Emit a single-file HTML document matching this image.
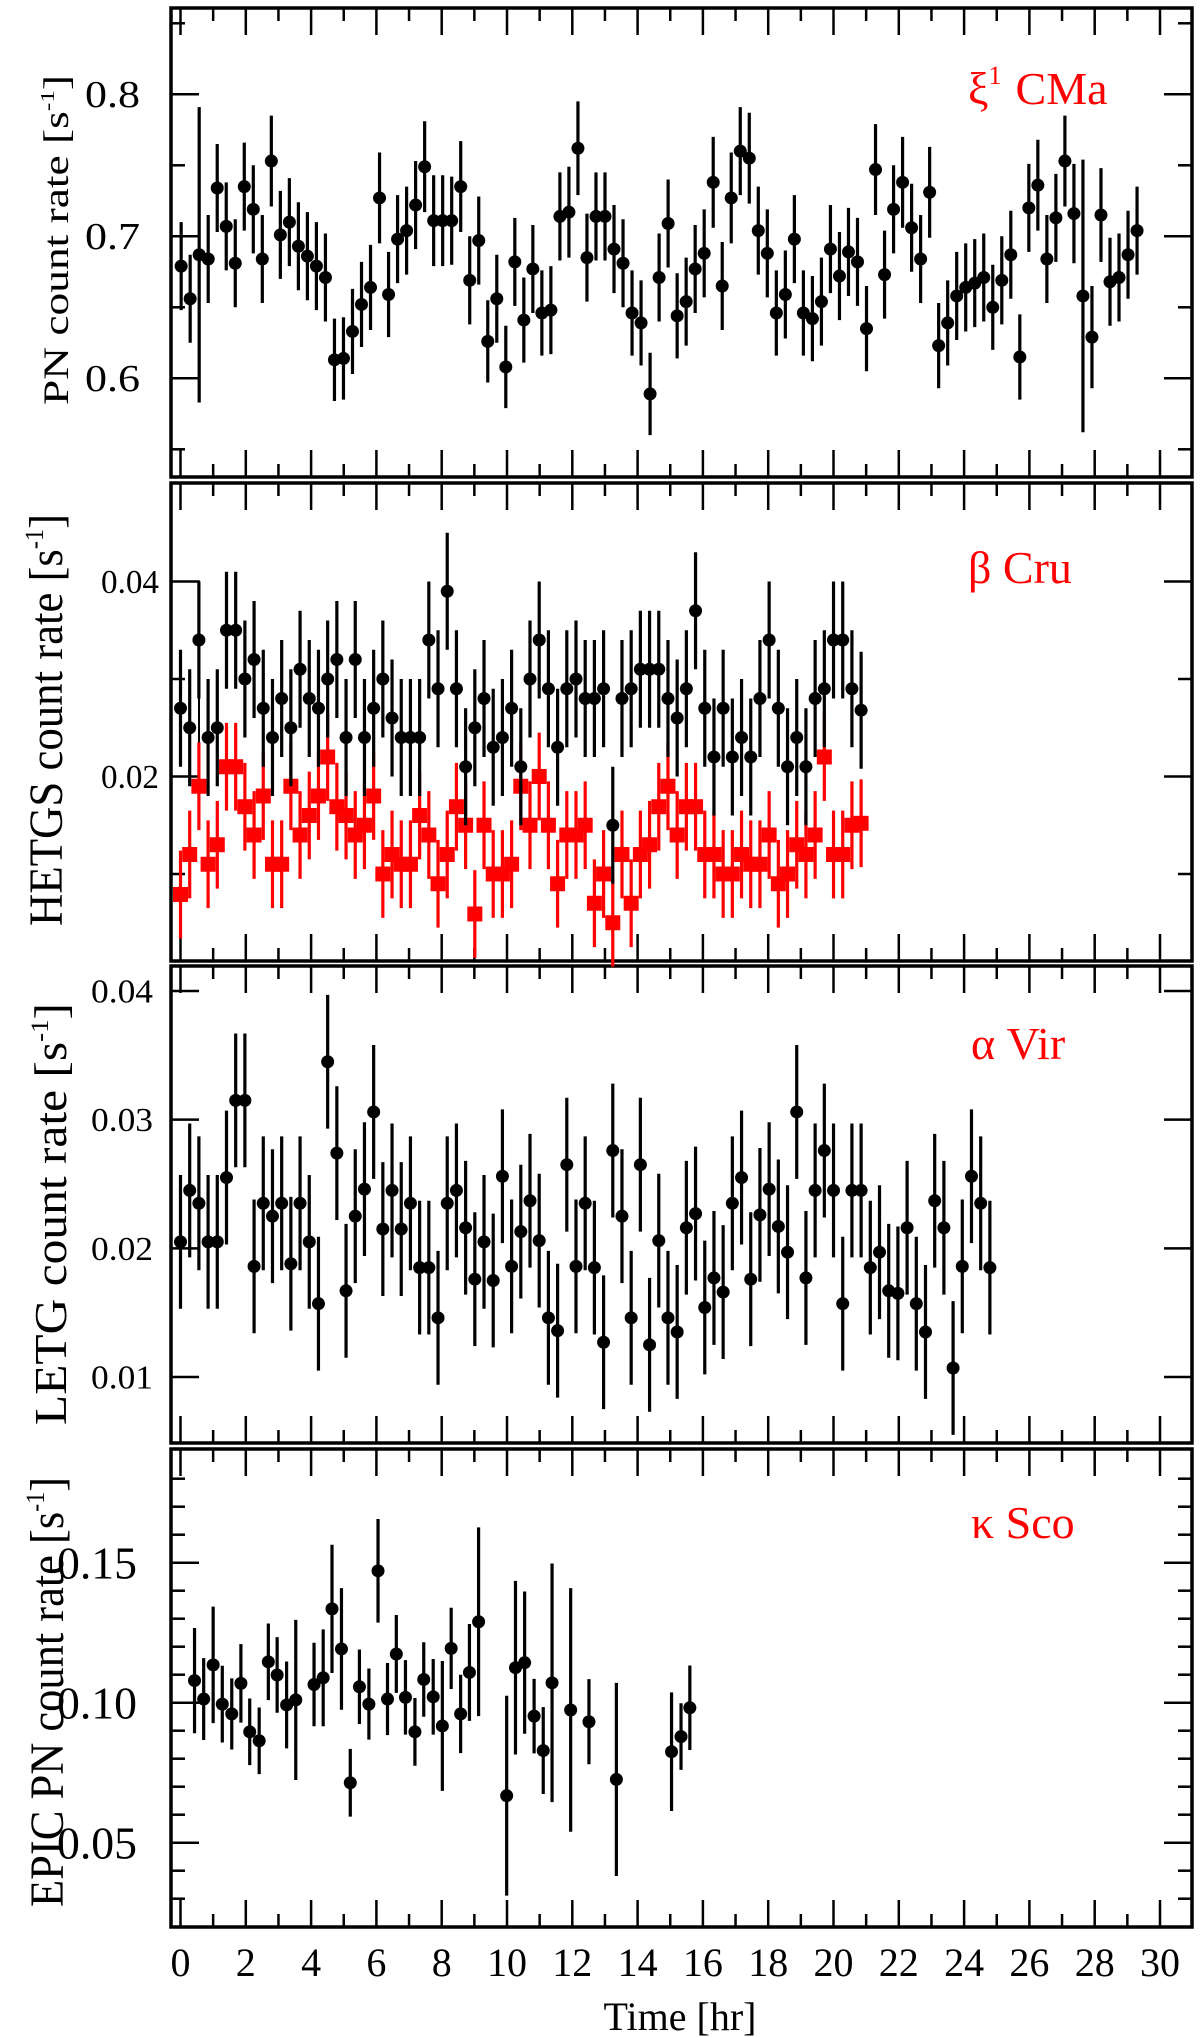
<!DOCTYPE html>
<html><head><meta charset="utf-8">
<style>
html,body{margin:0;padding:0;background:#fff;}
svg{display:block;}
text{font-family:"Liberation Serif",serif;}
</style></head>
<body>
<svg id="fig" width="1200" height="2037" viewBox="0 0 1200 2037" xmlns="http://www.w3.org/2000/svg"></svg>
<script>
// ---------- data ----------
// Panel 1: xi1 CMa (PN)
const p1BinStart = 0.02, p1BinSize = 0.2762;
const p1Values = [0.679,0.656,0.687,0.684,0.734,0.707,0.681,0.735,0.719,0.684,0.753,0.701,0.710,0.693,0.686,0.679,0.671,0.613,0.614,0.633,0.652,0.664,0.727,0.659,0.698,0.704,0.722,0.749,0.711,0.711,0.711,0.735,0.669,0.697,0.626,0.656,0.608,0.682,0.641,0.677,0.646,0.648,0.714,0.717,0.762,0.685,0.714,0.714,0.691,0.681,0.646,0.639,0.589,0.671,0.709,0.644,0.654,0.677,0.688,0.738,0.665,0.727,0.760,0.755,0.704,0.688,0.646,0.659,0.698,0.646,0.642,0.654,0.691,0.672,0.689,0.682,0.635,0.747,0.673,0.719,0.738,0.706,0.684,0.731,0.623,0.639,0.658,0.664,0.667,0.671,0.650,0.669,0.687,0.615,0.720,0.736,0.684,0.713,0.753,0.716,0.658,0.629,0.715,0.668,0.671,0.687,0.704];
const p1Errors = [0.031,0.031,0.104,0.031,0.031,0.031,0.031,0.031,0.031,0.031,0.032,0.031,0.031,0.031,0.031,0.031,0.031,0.029,0.029,0.030,0.030,0.030,0.032,0.030,0.031,0.031,0.031,0.032,0.032,0.032,0.031,0.032,0.031,0.031,0.029,0.031,0.029,0.031,0.030,0.031,0.030,0.031,0.031,0.032,0.033,0.031,0.031,0.031,0.031,0.031,0.030,0.030,0.029,0.031,0.031,0.030,0.031,0.031,0.031,0.032,0.031,0.032,0.031,0.032,0.031,0.031,0.030,0.031,0.031,0.030,0.030,0.031,0.031,0.031,0.031,0.031,0.030,0.032,0.031,0.031,0.032,0.031,0.031,0.032,0.030,0.030,0.031,0.031,0.031,0.031,0.030,0.031,0.031,0.030,0.031,0.032,0.031,0.031,0.032,0.035,0.096,0.036,0.033,0.031,0.031,0.031,0.031];
// Panel 2: beta Cru (HETGS), two series
const p2BinStart = 0.0, p2BinSize = 0.2817;
const p2Black = [0.0270,0.0250,0.0340,0.0240,0.0250,0.0350,0.0350,0.0300,0.0320,0.0270,0.0240,0.0280,0.0250,0.0310,0.0280,0.0270,0.0300,0.0320,0.0240,0.0320,0.0240,0.0270,0.0300,0.0260,0.0240,0.0240,0.0240,0.0340,0.0290,0.0390,0.0290,0.0210,0.0250,0.0280,0.0230,0.0240,0.0270,0.0210,0.0300,0.0340,0.0290,0.0230,0.0290,0.0300,0.0280,0.0280,0.0290,0.0150,0.0280,0.0290,0.0310,0.0310,0.0310,0.0280,0.0260,0.0290,0.0370,0.0270,0.0220,0.0270,0.0220,0.0240,0.0220,0.0280,0.0340,0.0270,0.0210,0.0240,0.0210,0.0280,0.0290,0.0340,0.0340,0.0290,0.0268];
const p2Red = [0.0079,0.0120,0.0190,0.0110,0.0130,0.0210,0.0210,0.0169,0.0140,0.0180,0.0110,0.0110,0.0190,0.0140,0.0160,0.0180,0.0220,0.0169,0.0160,0.0140,0.0150,0.0180,0.0100,0.0120,0.0110,0.0110,0.0160,0.0140,0.0090,0.0120,0.0169,0.0150,0.0059,0.0150,0.0100,0.0100,0.0110,0.0190,0.0150,0.0200,0.0150,0.0090,0.0140,0.0140,0.0150,0.0070,0.0100,0.0050,0.0120,0.0070,0.0120,0.0130,0.0169,0.0190,0.0140,0.0169,0.0169,0.0120,0.0120,0.0100,0.0100,0.0120,0.0110,0.0110,0.0140,0.0090,0.0100,0.0130,0.0120,0.0140,0.0220,0.0120,0.0120,0.0150,0.0152];
const p2BlackErr = 0.006, p2RedErr = 0.0045;
// Panel 3: alpha Vir (LETG)
const p3BinStart = 0.0, p3BinSize = 0.2817;
const p3Values = [0.0205,0.0245,0.0235,0.0205,0.0205,0.0255,0.0315,0.0315,0.0186,0.0235,0.0225,0.0235,0.0188,0.0235,0.0205,0.0157,0.0345,0.0274,0.0167,0.0225,0.0246,0.0306,0.0215,0.0245,0.0215,0.0235,0.0185,0.0185,0.0146,0.0235,0.0245,0.0216,0.0176,0.0205,0.0175,0.0256,0.0186,0.0213,0.0237,0.0206,0.0146,0.0136,0.0265,0.0186,0.0235,0.0185,0.0127,0.0276,0.0225,0.0146,0.0265,0.0125,0.0206,0.0146,0.0135,0.0216,0.0227,0.0154,0.0177,0.0166,0.0235,0.0255,0.0176,0.0226,0.0246,0.0217,0.0197,0.0306,0.0177,0.0245,0.0276,0.0245,0.0157,0.0245,0.0245,0.0185,0.0197,0.0167,0.0165,0.0216,0.0157,0.0135,0.0237,0.0216,0.0107,0.0186,0.0256,0.0235,0.0185];
const p3Err = 0.0052;
// Panel 4: kappa Sco (EPIC PN)
const p4Times = [0.43,0.71,1.00,1.28,1.57,1.85,2.12,2.41,2.69,2.96,3.25,3.53,4.09,4.37,4.64,4.93,5.20,5.48,5.77,6.05,6.34,6.61,6.89,7.18,7.45,7.74,8.02,8.29,8.58,8.85,9.13,9.99,10.26,10.54,10.83,11.11,11.38,11.95,12.51,13.35,15.04,15.33,15.60];
const p4Values = [0.1079,0.1013,0.1135,0.0995,0.0960,0.1069,0.0896,0.0864,0.1146,0.1099,0.0992,0.1010,0.1065,0.1089,0.1335,0.1192,0.0714,0.1057,0.0995,0.1471,0.1013,0.1174,0.1019,0.0896,0.1083,0.1021,0.0917,0.1194,0.0960,0.1108,0.1289,0.0668,0.1125,0.1143,0.0952,0.0829,0.1071,0.0974,0.0932,0.0726,0.0825,0.0879,0.0982];
const p4Errors = [0.0188,0.0146,0.0208,0.0137,0.0127,0.0140,0.0119,0.0119,0.0137,0.0135,0.0155,0.0286,0.0149,0.0173,0.0229,0.0217,0.0121,0.0133,0.0127,0.0185,0.0129,0.0139,0.0133,0.0121,0.0133,0.0135,0.0232,0.0145,0.0140,0.0173,0.0337,0.0357,0.0310,0.0254,0.0133,0.0155,0.0426,0.0435,0.0152,0.0345,0.0212,0.0119,0.0151];
const xTickLabels = ["0","2","4","6","8","10","12","14","16","18","20","22","24","26","28","30"];

// ---------- helpers ----------
const NS = "http://www.w3.org/2000/svg";
const svg = document.getElementById('fig');
function mk(tag, attrs, parent){ const e=document.createElementNS(NS,tag); for(const k in attrs) e.setAttribute(k,attrs[k]); (parent||svg).appendChild(e); return e; }
const FL = 171, FR = 1192;
function X(t){ return 180.5 + 32.65*t; }

const panels = [
 {name:'xi1-cma', top:8, bot:477, v1:0.8, y1:94.3, v2:0.6, y2:378.3,
  major:[0.6,0.7,0.8], minor:[0.55,0.65,0.75,0.85], labels:["0.6","0.7","0.8"], labFont:'"Liberation Serif",serif', labSize:38, labRight:140, labLen:55},
 {name:'beta-cru', top:483, bot:961, v1:0.03, y1:679, v2:0.01, y2:874,
  major:[0.02,0.04], minor:[0.01,0.03], labels:["0.02","0.04"], labFont:'"Liberation Sans",sans-serif', labSize:34, labRight:159, labLen:58},
 {name:'alpha-vir', top:966, bot:1443, v1:0.04, y1:991, v2:0.01, y2:1377,
  major:[0.01,0.02,0.03,0.04], minor:[], labels:["0.01","0.02","0.03","0.04"], labFont:'"Liberation Sans",sans-serif', labSize:34, labRight:153, labLen:62},
 {name:'kappa-sco', top:1449, bot:1927, v1:0.15, y1:1562.7, v2:0.05, y2:1842.7,
  major:[0.05,0.10,0.15], minor:[0.03,0.04,0.06,0.07,0.08,0.09,0.11,0.12,0.13,0.14,0.16,0.17,0.18,0.19], labels:["0.05","0.10","0.15"], labFont:'"Liberation Serif",serif', labSize:46, labRight:137, labLen:80}
];
panels.forEach(p=>{ p.Y = v => p.y1 + (v - p.v1)*(p.y2-p.y1)/(p.v2-p.v1); });

// ---------- frames, ticks ----------
panels.forEach(p=>{
  const g = mk('g',{});
  
  
  const fr = mk('rect',{x:FL,y:p.top,width:FR-FL,height:p.bot-p.top,fill:'none',stroke:'#000','stroke-width':3.5},g);
  
  
  for(let t=0;t<=30;t++){
    const len = (t%2===0)?27:13, x=X(t);
    mk('line',{x1:x,y1:p.bot,x2:x,y2:p.bot-len,stroke:'#000','stroke-width':2.5},g);
    mk('line',{x1:x,y1:p.top,x2:x,y2:p.top+len,stroke:'#000','stroke-width':2.5},g);
  }
  p.major.forEach((v,i)=>{
    const y=p.Y(v);
    mk('line',{x1:FL,y1:y,x2:FL+28,y2:y,stroke:'#000','stroke-width':2.5},g);
    mk('line',{x1:FR,y1:y,x2:FR-28,y2:y,stroke:'#000','stroke-width':2.5},g);
    const tl = mk('text',{x:p.labRight,y:y+p.labSize*0.34,'text-anchor':'end','font-size':p.labSize,'font-family':p.labFont,textLength:p.labLen,lengthAdjust:'spacingAndGlyphs'},g);
    tl.textContent = p.labels[i];
    
    
  });
  p.minor.forEach(v=>{
    const y=p.Y(v);
    if(y<p.top+2||y>p.bot-2) return;
    mk('line',{x1:FL,y1:y,x2:FL+14,y2:y,stroke:'#000','stroke-width':2.5},g);
    mk('line',{x1:FR,y1:y,x2:FR-14,y2:y,stroke:'#000','stroke-width':2.5},g);
  });
});
(function(){
  const p=panels[1];
  const b = mk('path',{d:`M${FL} ${p.Y(0.04)} H199 V${p.Y(0.02)} H${FL}`,fill:'none',stroke:'#000','stroke-width':2});
  
  
})();

// ---------- marks ----------
function errPoint(p, t, v, e, color, shape, nm){
  const x=X(t), y=p.Y(v);
  const l = mk('line',{x1:x,y1:p.Y(v+e),x2:x,y2:p.Y(v-e),stroke:color,'stroke-width':3.2});
  
  
  let m;
  if(shape==='square') m = mk('rect',{x:x-7.5,y:y-7.5,width:15,height:15,fill:color});
  else m = mk('ellipse',{cx:x,cy:y,rx:6.5,ry:6.5,fill:color});
  
  
}
p1Values.forEach((v,i)=>errPoint(panels[0], p1BinStart+i*p1BinSize, v, p1Errors[i], '#000','circle','xi1-cma'));
p2Red.forEach((v,i)=>errPoint(panels[1], p2BinStart+i*p2BinSize, v, p2RedErr, '#ff0000','square','beta-cru-red'));
p2Black.forEach((v,i)=>errPoint(panels[1], p2BinStart+i*p2BinSize, v, p2BlackErr, '#000','circle','beta-cru-black'));
p3Values.forEach((v,i)=>errPoint(panels[2], p3BinStart+i*p3BinSize, v, p3Err, '#000','circle','alpha-vir'));
p4Values.forEach((v,i)=>errPoint(panels[3], p4Times[i], v, p4Errors[i], '#000','circle','kappa-sco'));

xTickLabels.forEach(s=>{
  const t = mk('text',{x:X(+s),y:1976,'text-anchor':'middle','font-size':40});
  t.textContent = s;
  
  
});
</script>
<script>
(function(){
const NS="http://www.w3.org/2000/svg", svg=document.getElementById('fig');
function txt(attrs, html, name){ const e=document.createElementNS(NS,'text'); for(const k in attrs) e.setAttribute(k,attrs[k]); e.innerHTML=html;   svg.appendChild(e); return e; }
txt({x:680,y:2030,'text-anchor':'middle','font-size':40},'Time [hr]','x-axis-title');
txt({x:968,y:104,'font-size':46,fill:'#ff0000'},'ξ<tspan font-size="26" dy="-20">1</tspan><tspan dy="20" dx="14">CMa</tspan>','label-xi1-cma');
txt({x:968,y:583,'font-size':46,fill:'#ff0000'},'β Cru','label-beta-cru');
txt({x:971,y:1059,'font-size':46,fill:'#ff0000'},'α Vir','label-alpha-vir');
txt({x:971,y:1538,'font-size':46,fill:'#ff0000'},'κ Sco','label-kappa-sco');
function ytitle(cx, cy, len, font, size, main, name){
  return txt({x:0,y:0,'text-anchor':'middle','font-size':size,'font-family':font,
    transform:`translate(${cx},${cy}) rotate(-90)`,textLength:len,lengthAdjust:'spacingAndGlyphs'},
    main+' [s<tspan font-size="'+Math.round(size*0.55)+'" dy="-'+Math.round(size*0.4)+'">-1</tspan><tspan dy="'+Math.round(size*0.4)+'">]</tspan>', name);
}
ytitle(68, 240, 330, '"Liberation Sans",sans-serif', 36, 'PN count rate', 'y-axis-title-pn');
ytitle(62, 720, 412, '"Liberation Serif",serif', 48, 'HETGS count rate', 'y-axis-title-hetgs');
ytitle(66, 1214, 422, '"Liberation Serif",serif', 46, 'LETG count rate', 'y-axis-title-letg');
ytitle(63, 1692, 430, '"Liberation Serif",serif', 48, 'EPIC PN count rate', 'y-axis-title-epic');
})();
</script>
</body></html>
